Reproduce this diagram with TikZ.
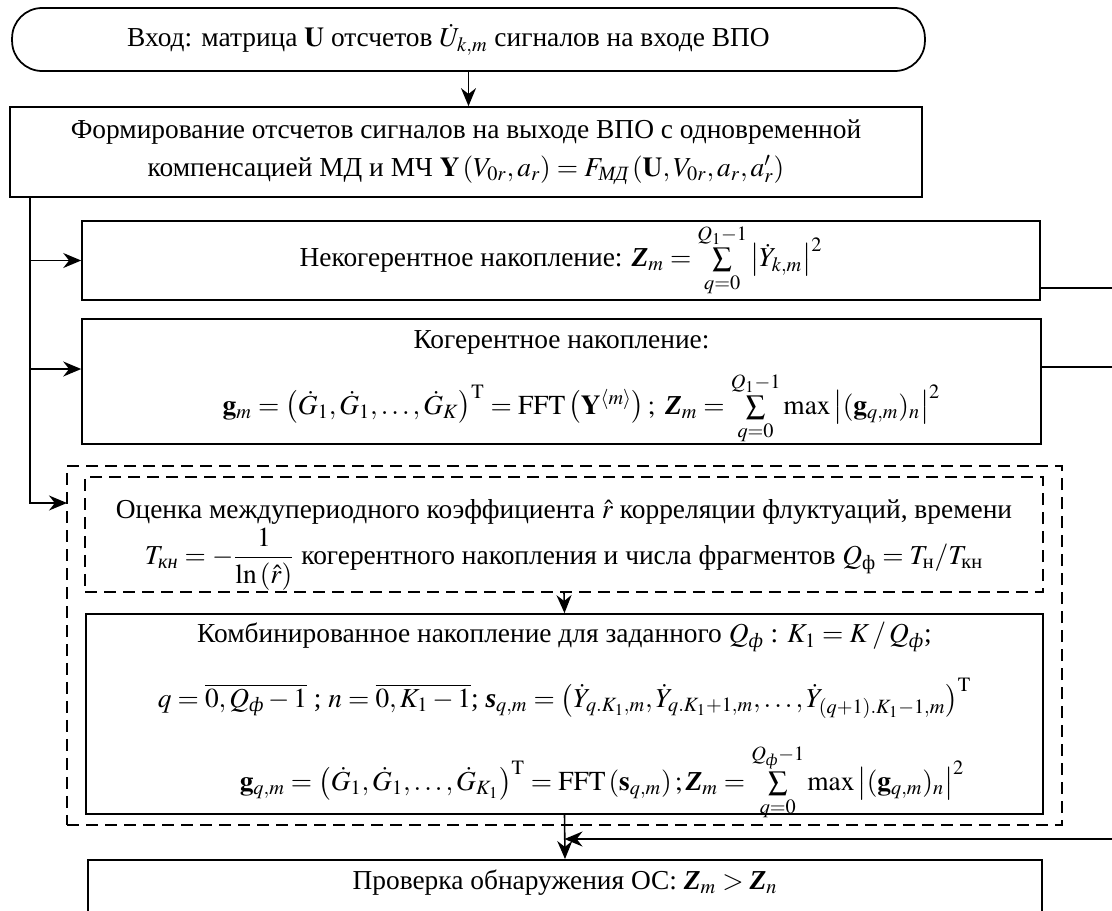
\documentclass[tikz,border=0pt]{standalone}
\usepackage{amsmath}
\usepackage{mathptmx}
\usepackage[no-math]{fontspec}
\setmainfont{Liberation Serif}
\usetikzlibrary{arrows.meta}
\newcommand{\bZ}{\textbf{\textit{Z}}}
\newcommand{\bsv}{\textbf{\textit{s}}}

\begin{document}
\begin{tikzpicture}[x=0.02cm, y=-0.02cm,
  font=\fontsize{15.6}{18.5}\selectfont,
  block/.style={draw, line width=1pt, align=center, inner sep=0pt},
  dashblock/.style={block, dash pattern=on 2.4mm off 1.4mm},
  arr/.style={-{Stealth[length=3.6mm, width=3mm]}, line width=0.9pt},
  link/.style={line width=0.9pt}]
  \useasboundingbox (0,0) rectangle (1112,910);
  \clip (0,0) rectangle (1112,910);

  % Input and forming
  \node[block, rounded corners=0.6cm, minimum width=18.26cm, minimum height=1.26cm] (input) at (468.5,39.5)
    {Вход: матрица $\mathbf{U}$ отсчетов $\dot U_{k,m}$ сигналов на входе ВПО\hspace*{0.8cm}};

  \node[block, minimum width=18.24cm, minimum height=1.8cm] (form) at (466,152)
    {Формирование отсчетов сигналов на выходе ВПО с одновременной\\[3pt]
     компенсацией МД и МЧ $\mathbf{Y}\left(V_{0r},a_r\right)=F_{\textit{МД}}\left(\mathbf{U},V_{0r},a_r,a_r'\right)$};

  % Accumulation boxes
  \node[block, minimum width=19.16cm, minimum height=1.58cm] (incoh) at (561,260.5)
    {Некогерентное накопление: $\bZ_m=\sum\limits_{q=0}^{Q_1-1}\left|\dot Y_{k,m}\right|^2$};

  \node[block, minimum width=19.18cm, minimum height=2.34cm] (coh) at (561.5,381.5)
    {\rule{0pt}{17pt}Когерентное накопление:\\[9pt]
     \hspace*{0.8cm}$\mathbf{g}_m=\left(\dot G_1,\dot G_1,\ldots,\dot G_K\right)^{\mathrm{T}}=\mathrm{FFT}\left(\mathbf{Y}^{\langle m\rangle}\right);\ \bZ_m=\sum\limits_{q=0}^{Q_1-1}\max\left|(\mathbf{g}_{q,m})_n\right|^2$};

  % Combined accumulation stage
  \node[dashblock, minimum width=19.9cm, minimum height=7.18cm] (stage) at (564.5,645.5) {};

  \node[dashblock, minimum width=19.16cm, minimum height=2.3cm, text depth=0.1cm] (est) at (564,534.5)
    {Оценка междупериодного коэффициента $\hat r$ корреляции флуктуаций, времени\\[1pt]
     $T_{\textit{кн}}=-\dfrac{1}{\ln\left(\hat r\right)}$ когерентного накопления и числа фрагментов $Q_{\text{ф}}=T_{\text{н}}/T_{\text{кн}}$};

  \node[block, minimum width=19.14cm, minimum height=4cm, text depth=0.3cm] (comb) at (564.5,714)
    {Комбинированное накопление для заданного $Q_{\textit{ф}}$ : $K_1=K\,/\,Q_{\textit{ф}}$;\\[14pt]
     $q=\overline{0,Q_{\textit{ф}}-1}$ ; $n=\overline{0,K_1-1}$; $\bsv_{q,m}=\left(\dot Y_{q.K_1,m},\dot Y_{q.K_1+1,m},\ldots,\dot Y_{(q+1).K_1-1,m}\right)^{\mathrm{T}}$\\[14pt]
     \hspace*{1.5cm}$\mathbf{g}_{q,m}=\left(\dot G_1,\dot G_1,\ldots,\dot G_{K_1}\right)^{\mathrm{T}}=\mathrm{FFT}\left(\mathbf{s}_{q,m}\right);\bZ_m=\sum\limits_{q=0}^{Q_{\textit{ф}}-1}\max\left|(\mathbf{g}_{q,m})_n\right|^2$};

  % Detection check
  \node[block, anchor=north, minimum width=19.08cm, text height=0.6cm, text depth=1.4cm] (check) at (565,859)
    {Проверка обнаружения ОС: $\bZ_m>\bZ_n$};

  % Free ends
  \coordinate (split) at (30,197);
  \coordinate (into) at (67,503);
  \coordinate (out1) at (1112,288);
  \coordinate (out2) at (1112,367);
  \coordinate (back) at (1112,839);

  % Connecting lines
  \draw[arr] (input.south) -- (input.south |- form.north);
  \draw[link] (split) -- (split |- into);
  \draw[arr] (split) |- (incoh.west);
  \draw[arr] (split) |- ([yshift=0.25cm]coh.west);
  \draw[arr] (split) |- (into);
  \draw[link] (incoh.east |- out1) -- (out1);
  \draw[link] (coh.east |- out2) -- (out2);
  \draw[arr] (est.south) -- (comb.north);
  \draw[arr] (comb.south) -- (check.north);
  \draw[arr] (back) -- (back -| comb.south);
\end{tikzpicture}
\end{document}
